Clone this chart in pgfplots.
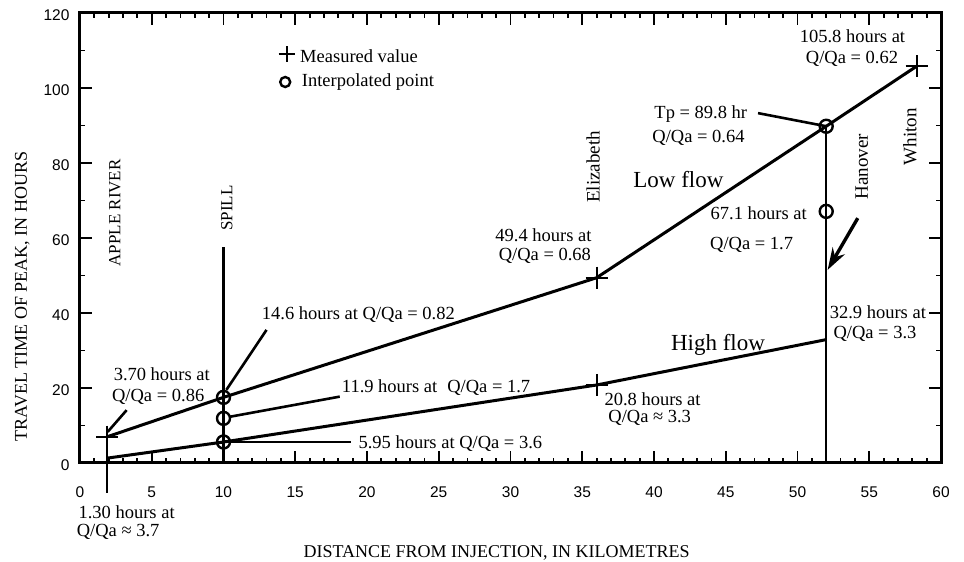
\documentclass[border=0pt]{standalone}
\usepackage{fontspec}
\setmainfont{Liberation Serif}
\setsansfont{Liberation Sans}
\usepackage{pgfplots}
\pgfplotsset{compat=1.18}
\usetikzlibrary{calc,arrows.meta}

\tikzset{
  ann/.style={font=\fontsize{18.5}{18.5}\selectfont, inner sep=0pt},
  big/.style={font=\fontsize{23}{23}\selectfont, inner sep=0pt},
  place/.style={font=\fontsize{19}{19}\selectfont, inner sep=0pt, rotate=90},
}

\begin{document}
\begin{tikzpicture}
\begin{axis}[
  scale only axis, width=861pt, height=450pt,
  xmin=0, xmax=60, ymin=0, ymax=120,
  xtick={0,5,...,60}, minor x tick num=4,
  ytick={0,20,...,120}, minor y tick num=1,
  tick align=inside,
  major tick length=12pt, minor tick length=5pt,
  every tick/.style={black, line width=1.8pt},
  axis line style={line width=3pt},
  /pgf/number format/assume math mode=true,
  tick label style={font=\sffamily\fontsize{15.5}{15.5}\selectfont},
  xticklabel style={yshift=-20pt},
  yticklabel style={xshift=-7pt, yshift=-2pt},
  xlabel={DISTANCE FROM INJECTION, IN KILOMETRES},
  ylabel={TRAVEL TIME OF PEAK, IN HOURS},
  label style={font=\fontsize{18}{18}\selectfont},
  xlabel style={at={(axis description cs:0.484,-0.2)}, anchor=center},
  ylabel style={at={(axis description cs:-0.067,0.37)}, anchor=center},
  clip=false,
]
% low flow and high flow
\addplot[line width=3pt] coordinates {(1.9,7) (10,17.5) (36,49.4) (52,89.8) (58.3,105.8)};
\addplot[line width=3pt] coordinates {(1.9,1.3) (10,5.6) (36,20.8) (52,32.9)};

% site lines
\addplot[line width=2.2pt] coordinates {(10,57.5) (10,0)};
\addplot[line width=2.2pt] coordinates {(52,89.8) (52,0)};
\addplot[line width=2.2pt] coordinates {(1.9,4) (1.9,-8)};

% leaders
\addplot[line width=2.6pt] coordinates {(1.93,8.3) (3.25,14.1)};
\addplot[line width=2.6pt] coordinates {(10.2,19.5) (13.0,35.5)};
\addplot[line width=2.6pt] coordinates {(10.4,12.3) (18.1,17.7)};
\addplot[line width=2.6pt] coordinates {(10,5.6) (18.9,5.6)};
\addplot[line width=2.6pt] coordinates {(47.25,93.3) (52,89.8)};
% arrow to Hanover
\draw[line width=3.4pt, -{Stealth[length=22pt,width=14pt]}] (axis cs:54.2,65.3) -- (axis cs:52.1,51.5);

% measured values
\addplot[only marks, mark=+, mark size=11pt, mark options={line width=2pt}]
  coordinates {(1.9,7) (36,49.4) (58.3,105.8) (36,20.8)};
% interpolated points
\addplot[only marks, mark=o, mark size=6.5pt, mark options={line width=2.4pt, fill=white}]
  coordinates {(10,17.5) (10,11.9) (10,5.6) (52,89.8) (52,67.1)};

% legend
\addplot[only marks, mark=+, mark size=8pt, mark options={line width=2.2pt}] coordinates {(14.4,109)};
\addplot[only marks, mark=o, mark size=5pt, mark options={line width=2.4pt}] coordinates {(14.3,101.6)};
\node[ann, anchor=west] at (axis cs:15.33,108.5) {Measured value};
\node[ann, anchor=west] at (axis cs:15.45,101.6) {Interpolated point};

% place names
\node[place, font=\fontsize{17}{17}\selectfont] at (axis cs:2.44,66.7) {APPLE RIVER};
\node[place, font=\fontsize{17}{17}\selectfont] at (axis cs:10.24,68) {SPILL};
\node[place] at (axis cs:35.75,79) {Elizabeth};
\node[place] at (axis cs:54.47,79) {Hanover};
\node[place] at (axis cs:57.84,87) {Whiton};

\node[big] at (axis cs:41.7,75.5) {Low flow};
\node[big] at (axis cs:44.46,31.5) {High flow};

% annotations
\node[ann] at (axis cs:53.83,113.7) {105.8 hours at};
\node[ann] at (axis cs:53.8,107.7) {Q/Qa = 0.62};
\node[ann] at (axis cs:43.26,93) {Tp = 89.8 hr};
\node[ann] at (axis cs:43.1,86.8) {Q/Qa = 0.64};
\node[ann] at (axis cs:47.3,66.7) {67.1 hours at};
\node[ann] at (axis cs:46.8,58.1) {Q/Qa = 1.7};
\node[ann] at (axis cs:32.3,60.8) {49.4 hours at};
\node[ann] at (axis cs:32.4,55.3) {Q/Qa = 0.68};
\node[ann] at (axis cs:19.4,39.5) {14.6 hours at Q/Qa = 0.82};
\node[ann] at (axis cs:5.7,23.7) {3.70 hours at};
\node[ann] at (axis cs:5.45,17.6) {Q/Qa = 0.86};
\node[ann, anchor=west] at (axis cs:18.24,20.2) {11.9 hours at\hspace{10pt}Q/Qa = 1.7};
\node[ann] at (axis cs:39.9,16.9) {20.8 hours at};
\node[ann] at (axis cs:39.7,12) {Q/Qa ≈ 3.3};
\node[ann, anchor=west] at (axis cs:19.4,5.25) {5.95 hours at Q/Qa = 3.6};
\node[ann] at (axis cs:55.6,40.2) {32.9 hours at};
\node[ann] at (axis cs:55.4,34.4) {Q/Qa = 3.3};
\node[ann] at (axis cs:3.25,-13.2) {1.30 hours at};
\node[ann] at (axis cs:2.66,-18.4) {Q/Qa ≈ 3.7};
\end{axis}
\pgfresetboundingbox
\path[use as bounding box] ($(current axis.south west)+(-80pt,-99pt)$) rectangle ($(current axis.north east)+(23pt,13pt)$);
\end{tikzpicture}
\end{document}
